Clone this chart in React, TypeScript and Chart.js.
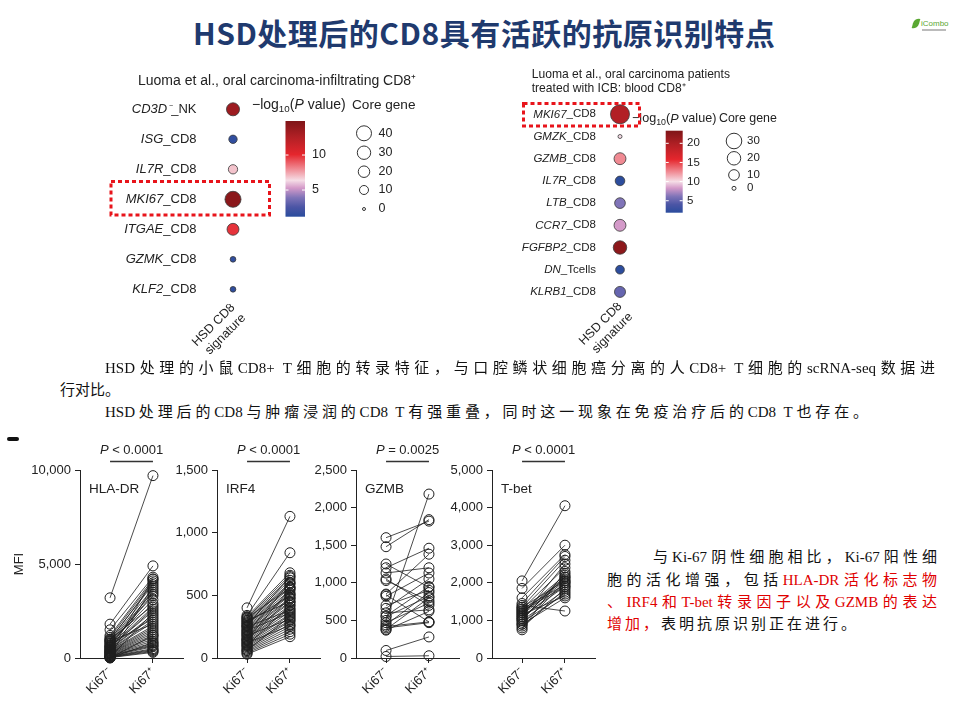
import React, { useEffect, useRef } from 'react';
import { Chart, registerables } from 'chart.js';
Chart.register(...registerables);

// ---------------- DATA ----------------
// Panel 1: Luoma et al., oral carcinoma-infiltrating CD8+
const leftGenes = ['CD3D⁻', 'ISG', 'IL7R', 'MKI67', 'ITGAE', 'GZMK', 'KLF2'];
const leftSuffix = ['_NK', '_CD8', '_CD8', '_CD8', '_CD8', '_CD8', '_CD8'];
const leftLogP = [13.5, 1.46, 6.9, 14.3, 9.8, 1.46, 1.4];
const leftCore = [28, 8, 11, 47, 22, 2, 2];
const leftLegendCore = [40, 30, 20, 10, 0];
const leftCbarTicks = [5, 10];
const leftCbarRange = [1.19, 14.86];

// Panel 2: Luoma et al., oral carcinoma patients treated with ICB: blood CD8+
const rightGenes = ['MKI67', 'GMZK', 'GZMB', 'IL7R', 'LTB', 'CCR7', 'FGFBP2', 'DN', 'KLRB1'];
const rightSuffix = ['_CD8', '_CD8', '_CD8', '_CD8', '_CD8', '_CD8', '_CD8', '_Tcells', '_CD8'];
const rightLogP = [19.66, 10.0, 12.6, 2.0, 6.16, 8.3, 22.4, 2.0, 5.1];
const rightCore = [50, 0, 14, 7, 10, 14, 20, 5, 11];
const rightLegendCore = [30, 20, 10, 0];
const rightCbarTicks = [5, 10, 15, 20];
const rightCbarRange = [1.87, 23.3];

// Paired MFI panels
const pairCategories = ['Ki67⁻', 'Ki67⁺'];
const hladrNeg = [3200, 1800, 1500, 1200, 1100, 1000, 950, 900, 850, 800, 780, 700, 650, 600, 580, 550, 500, 480, 450, 420, 400, 380, 350, 320, 300, 280, 250, 230, 200, 180, 150, 130, 100, 80, 60, 50, 30, 20, 10, 0, 40, 120, 300, 600, 900, 700, 1000];
const hladrPos = [9700, 4900, 4300, 4200, 4100, 3900, 4000, 3700, 3500, 3300, 3100, 3400, 2900, 2700, 2500, 2600, 2300, 2200, 2000, 1900, 1700, 1600, 1500, 1400, 1300, 1200, 1100, 1000, 900, 800, 700, 650, 600, 500, 450, 400, 350, 300, 800, 1200, 2400, 3800, 4200, 3600, 1800, 2100, 2800];
const irf4Neg = [400, 340, 330, 320, 310, 300, 290, 280, 270, 260, 250, 240, 230, 220, 210, 200, 190, 180, 170, 160, 150, 140, 130, 120, 110, 100, 90, 80, 70, 60, 50, 40, 30, 300, 250, 200, 150, 100, 280, 220, 180, 120, 60, 320, 260, 140];
const irf4Pos = [1130, 840, 680, 660, 640, 620, 600, 590, 570, 560, 540, 520, 510, 500, 480, 470, 450, 440, 420, 400, 390, 370, 350, 340, 320, 300, 290, 270, 250, 230, 210, 190, 170, 450, 380, 600, 550, 420, 500, 360, 310, 260, 330, 560, 650, 480];
const gzmbNeg = [1600, 1480, 1250, 1200, 1130, 1030, 850, 820, 700, 660, 600, 550, 500, 470, 440, 420, 400, 380, 370, 100, 20, 840, 560, 1050];
const gzmbPos = [1820, 1840, 940, 1460, 1200, 760, 1380, 1130, 900, 1050, 640, 820, 2180, 730, 870, 480, 470, 800, 620, 280, 30, 480, 950, 700];
const tbetNeg = [2050, 1850, 1600, 1400, 1350, 1300, 1250, 1200, 1150, 1100, 1050, 1000, 950, 900, 850, 800, 750, 1300, 1200, 1100, 1000, 1450, 1350, 1250, 900, 1150, 1050];
const tbetPos = [4050, 3000, 2750, 1250, 2600, 2400, 2200, 2100, 2050, 1900, 2000, 1800, 1700, 1600, 1750, 1850, 2300, 1950, 2150, 2500, 2250, 2700, 2050, 1900, 2000, 1650, 2150];

// ---------------- HELPERS ----------------
const SANS = '"Liberation Sans", Arial, sans-serif';
const CMAP: [number, string][] = [
  [0, '#2a4c9d'], [0.1, '#4b55a5'], [0.2, '#8074b8'], [0.3, '#d49ac9'], [0.38, '#f5dde6'],
  [0.5, '#f08a93'], [0.65, '#e5262d'], [0.83, '#b22025'], [1, '#7f1518'],
];
const hex = (h: string) => [1, 3, 5].map((i) => parseInt(h.slice(i, i + 2), 16));
function cmap(f: number) {
  f = Math.max(0, Math.min(1, f));
  for (let i = 1; i < CMAP.length; i++) {
    if (f <= CMAP[i][0]) {
      const [f0, c0] = CMAP[i - 1];
      const [f1, c1] = CMAP[i];
      const t = (f - f0) / (f1 - f0);
      const a = hex(c0), b = hex(c1);
      const c = a.map((v, k) => Math.round(v + (b[k] - v) * t));
      return `rgb(${c[0]},${c[1]},${c[2]})`;
    }
  }
  return CMAP[CMAP.length - 1][1];
}

function drawLogTitle(ctx: CanvasRenderingContext2D, x: number, y: number, s: number) {
  ctx.textAlign = 'left';
  ctx.textBaseline = 'middle';
  const parts: [string, string, number][] = [
    ['−log', `${s}px ${SANS}`, 0],
    ['10', `${s * 0.7}px ${SANS}`, s * 0.32],
    ['(', `${s}px ${SANS}`, 0],
    ['P', `italic ${s}px ${SANS}`, 0],
    [' value)', `${s}px ${SANS}`, 0],
  ];
  let cx = x;
  for (const [t, f, dy] of parts) {
    ctx.font = f;
    ctx.fillText(t, cx, y + dy);
    cx += ctx.measureText(t).width;
  }
}

function drawRowLabel(ctx: CanvasRenderingContext2D, xr: number, y: number, gene: string, suffix: string, s: number) {
  ctx.textAlign = 'left';
  ctx.textBaseline = 'middle';
  ctx.font = `${s}px ${SANS}`;
  const sw = ctx.measureText(suffix).width;
  ctx.font = `italic ${s}px ${SANS}`;
  const gw = ctx.measureText(gene).width;
  ctx.fillText(gene, xr - sw - gw, y);
  ctx.font = `${s}px ${SANS}`;
  ctx.fillText(suffix, xr - sw, y);
}

type DotSpec = {
  genes: string[]; suffix: string[]; logP: number[]; core: number[];
  range: number[]; cbarTicks: number[]; legendCore: number[];
  sizeFn: (n: number) => number;
  pad: { left: number; right: number; top: number }; axisH: number;
  title: string[]; titleX: number; titleY: number[]; titleSize: number;
  labelGap: number; labelSize: number;
  cbar: { x0: number; x1: number; y0: number; y1: number; labelX: number; size: number };
  logTitle: { x: number; y: number; size: number };
  coreTitle: { x: number; y: number; size: number };
  legend: { x: number; ys: number[]; labelX: number; size: number };
  box: { x0: number; y0: number; x1: number; y1: number };
};

function dotConfig(sp: DotSpec): any {
  const n = sp.genes.length;
  const f = (v: number) => (v - sp.range[0]) / (sp.range[1] - sp.range[0]);
  const deco = {
    id: 'deco',
    afterDraw(chart: any) {
      const ctx: CanvasRenderingContext2D = chart.ctx;
      const xs = chart.scales.x, ys = chart.scales.y;
      const dx = xs.getPixelForValue(0);
      ctx.save();
      ctx.fillStyle = '#222';
      ctx.font = `${sp.titleSize}px ${SANS}`;
      ctx.textAlign = 'left';
      ctx.textBaseline = 'middle';
      sp.title.forEach((t, i) => ctx.fillText(t, sp.titleX, sp.titleY[i]));
      sp.genes.forEach((g, i) => drawRowLabel(ctx, dx - sp.labelGap, ys.getPixelForValue(i), g, sp.suffix[i], sp.labelSize));
      const c = sp.cbar;
      const grad = ctx.createLinearGradient(0, c.y1, 0, c.y0);
      CMAP.forEach(([p, col]) => grad.addColorStop(p, col));
      ctx.fillStyle = grad;
      ctx.fillRect(c.x0, c.y0, c.x1 - c.x0, c.y1 - c.y0);
      ctx.strokeStyle = '#fff';
      ctx.lineWidth = 1;
      ctx.font = `${c.size}px ${SANS}`;
      ctx.textAlign = 'left';
      ctx.textBaseline = 'middle';
      sp.cbarTicks.forEach((t) => {
        const y = c.y1 - f(t) * (c.y1 - c.y0);
        ctx.beginPath();
        ctx.moveTo(c.x0, y); ctx.lineTo(c.x0 + 3, y);
        ctx.moveTo(c.x1 - 3, y); ctx.lineTo(c.x1, y);
        ctx.stroke();
        ctx.fillStyle = '#222';
        ctx.fillText(String(t), c.labelX, y);
      });
      ctx.fillStyle = '#222';
      drawLogTitle(ctx, sp.logTitle.x, sp.logTitle.y, sp.logTitle.size);
      ctx.font = `${sp.coreTitle.size}px ${SANS}`;
      ctx.textAlign = 'left';
      ctx.fillText('Core gene', sp.coreTitle.x, sp.coreTitle.y);
      ctx.strokeStyle = '#333';
      ctx.lineWidth = 1;
      ctx.font = `${sp.legend.size}px ${SANS}`;
      sp.legendCore.forEach((v, i) => {
        const y = sp.legend.ys[i];
        ctx.beginPath();
        ctx.arc(sp.legend.x, y, sp.sizeFn(v), 0, Math.PI * 2);
        ctx.fillStyle = '#fff';
        ctx.fill();
        ctx.stroke();
        ctx.fillStyle = '#222';
        ctx.fillText(String(v), sp.legend.labelX, y);
      });
      ctx.strokeStyle = '#e8141b';
      ctx.lineWidth = 3;
      ctx.setLineDash([4, 3]);
      const b = sp.box;
      ctx.strokeRect(b.x0, b.y0, b.x1 - b.x0, b.y1 - b.y0);
      ctx.restore();
    },
  };
  return {
    type: 'bubble',
    data: {
      datasets: [{
        data: sp.genes.map((_, i) => ({ x: 0, y: i, r: sp.sizeFn(sp.core[i]) })),
        backgroundColor: sp.logP.map((v) => cmap(f(v))),
        borderColor: '#3a3a3a',
        borderWidth: 0.8,
        clip: false,
      }],
    },
    options: {
      responsive: false, animation: false, devicePixelRatio: 1, events: [],
      layout: { padding: { left: sp.pad.left, right: sp.pad.right, top: sp.pad.top, bottom: 0 }, autoPadding: false },
      plugins: { legend: { display: false }, tooltip: { enabled: false } },
      scales: {
        x: {
          type: 'linear', min: -1, max: 1,
          afterBuildTicks: (s: any) => { s.ticks = [{ value: 0 }]; },
          afterFit: (s: any) => { s.height = sp.axisH; },
          ticks: { callback: () => ['HSD CD8', 'signature'], minRotation: 45, maxRotation: 45, autoSkip: false, padding: -4, color: '#222', font: { family: SANS, size: 12.5 } },
          grid: { display: false, drawTicks: false },
          border: { display: false },
        },
        y: { type: 'linear', min: -0.5, max: n - 0.5, reverse: true, display: false },
      },
    },
    plugins: [deco],
  };
}

function pairConfig(neg: number[], pos: number[], yMax: number, yStep: number, pText: string, name: string, showTitle: boolean): any {
  const annot = {
    id: 'annot',
    afterDraw(chart: any) {
      const ctx: CanvasRenderingContext2D = chart.ctx;
      const xs = chart.scales.x;
      const a = chart.chartArea;
      const x0 = xs.getPixelForValue(0), x1 = xs.getPixelForValue(1);
      ctx.save();
      ctx.strokeStyle = '#333';
      ctx.lineWidth = 1.4;
      ctx.beginPath();
      ctx.moveTo(x0, a.top - 8.5); ctx.lineTo(x1, a.top - 8.5);
      ctx.stroke();
      ctx.fillStyle = '#222';
      ctx.textBaseline = 'middle';
      ctx.textAlign = 'left';
      ctx.font = `italic 13px ${SANS}`;
      const pw = ctx.measureText('P').width;
      ctx.font = `13px ${SANS}`;
      const rw = ctx.measureText(pText).width;
      const sx = (x0 + x1) / 2 - (pw + rw) / 2;
      ctx.font = `italic 13px ${SANS}`;
      ctx.fillText('P', sx, a.top - 20);
      ctx.font = `13px ${SANS}`;
      ctx.fillText(pText, sx + pw, a.top - 20);
      ctx.font = `13.5px ${SANS}`;
      ctx.fillText(name, a.left + 9, a.top + 19);
      ctx.restore();
    },
  };
  return {
    type: 'scatter',
    data: {
      datasets: neg.map((v, i) => ({
        data: [{ x: 0, y: v }, { x: 1, y: pos[i] }],
        showLine: true,
        borderColor: '#1e1e1e',
        borderWidth: 0.8,
        pointRadius: 5,
        pointBorderWidth: 1,
        pointBorderColor: '#1e1e1e',
        pointBackgroundColor: 'rgba(0,0,0,0)',
        clip: false,
      })),
    },
    options: {
      responsive: false, animation: false, devicePixelRatio: 1, events: [],
      layout: { padding: { left: 0, top: 34, right: 10, bottom: 0 }, autoPadding: false },
      plugins: { legend: { display: false }, tooltip: { enabled: false } },
      scales: {
        x: {
          type: 'linear', min: -0.7, max: 1.7,
          afterBuildTicks: (s: any) => { s.ticks = [{ value: 0 }, { value: 1 }]; },
          afterFit: (s: any) => { s.height = 62; },
          ticks: { callback: (v: any) => pairCategories[v], minRotation: 45, maxRotation: 45, autoSkip: false, padding: 2, color: '#222', font: { family: SANS, size: 13 } },
          grid: { display: true, drawOnChartArea: false, drawTicks: true, tickLength: 5, color: '#222' },
          border: { display: true, color: '#222', width: 1 },
        },
        y: {
          type: 'linear', min: 0, max: yMax,
          afterFit: (s: any) => { s.width = 70; },
          ticks: { stepSize: yStep, padding: 4, color: '#222', font: { family: SANS, size: 13 }, callback: (v: any) => Number(v).toLocaleString('en-US') },
          grid: { display: true, drawOnChartArea: false, drawTicks: true, tickLength: 5, color: '#222' },
          border: { display: true, color: '#222', width: 1 },
          title: { display: showTitle, text: 'MFI', color: '#222', font: { family: SANS, size: 13 }, padding: { top: 2, bottom: 0 } },
        },
      },
    },
    plugins: [annot],
  };
}

function ChartBox({ left, top, width, height, make }: { left: number; top: number; width: number; height: number; make: () => any }) {
  const ref = useRef<HTMLCanvasElement>(null);
  useEffect(() => {
    const chart = new Chart(ref.current as HTMLCanvasElement, make());
    return () => chart.destroy();
  }, []);
  return <canvas ref={ref} width={width} height={height} style={{ position: 'absolute', left, top, width, height }} />;
}

const SERIF = '"Liberation Serif", "Noto Sans CJK SC", serif';
const lineCss = (left: number, top: number, width?: number, extra: any = {}): any => ({
  position: 'absolute', left, top, width, fontFamily: SERIF, fontSize: 15, lineHeight: '22px', color: '#111',
  textAlign: width ? 'justify' : 'left', textAlignLast: width ? 'justify' : 'auto', ...extra,
});

export default function App() {
  return (
    <div style={{ position: 'absolute', left: 0, top: 0, width: 960, height: 720, background: '#fff', overflow: 'hidden' }}>
      <div style={{ position: 'absolute', left: 193, top: 13, fontSize: 30, fontWeight: 700, color: '#1f3a6e', fontFamily: '"Noto Sans CJK SC", sans-serif', lineHeight: '38px', whiteSpace: 'nowrap', letterSpacing: 0.5 }}>
        HSD处理后的CD8具有活跃的抗原识别特点
      </div>
      {/* logo */}
      <div style={{ position: 'absolute', left: 913, top: 18, width: 6, height: 11, background: '#5aa832', borderRadius: '6px 0 6px 0', transform: 'rotate(15deg)' }} />
      <div style={{ position: 'absolute', left: 921, top: 19, fontSize: 8, color: '#5aa832', fontFamily: SANS, lineHeight: '10px' }}>iCombo</div>
      <div style={{ position: 'absolute', left: 922, top: 29, width: 24, height: 2, background: '#bbb' }} />

      <ChartBox left={100} top={60} width={330} height={300} make={() => dotConfig({
        genes: leftGenes, suffix: leftSuffix, logP: leftLogP, core: leftCore,
        range: leftCbarRange, cbarTicks: leftCbarTicks, legendCore: leftLegendCore,
        sizeFn: (v) => 1.5 + 0.95 * Math.sqrt(v),
        pad: { left: 103, right: 167, top: 34.3 }, axisH: 55.7,
        title: ['Luoma et al., oral carcinoma-infiltrating CD8⁺'], titleX: 38, titleY: [20.7], titleSize: 14,
        labelGap: 36.5, labelSize: 13,
        cbar: { x0: 185.5, x1: 205, y0: 61, y1: 156.7, labelX: 212, size: 12.5 },
        logTitle: { x: 152, y: 45, size: 14 },
        coreTitle: { x: 252, y: 45, size: 13.6 },
        legend: { x: 264, ys: [73.3, 92.7, 111.7, 130, 149], labelX: 278.5, size: 12.5 },
        box: { x0: 11, y0: 121.5, x1: 169.5, y1: 155 },
      })} />

      <ChartBox left={510} top={60} width={290} height={300} make={() => dotConfig({
        genes: rightGenes, suffix: rightSuffix, logP: rightLogP, core: rightCore,
        range: rightCbarRange, cbarTicks: rightCbarTicks, legendCore: rightLegendCore,
        sizeFn: (v) => 2 + 1.06 * Math.sqrt(v),
        pad: { left: 90, right: 160, top: 43.2 }, axisH: 57,
        title: ['Luoma et al., oral carcinoma patients', 'treated with ICB: blood CD8⁺'], titleX: 21.7, titleY: [15, 28.3], titleSize: 12.1,
        labelGap: 24, labelSize: 11.5,
        cbar: { x0: 155.7, x1: 172.7, y0: 70.7, y1: 152.7, labelX: 177, size: 11.5 },
        logTitle: { x: 122, y: 59, size: 12.6 },
        coreTitle: { x: 209, y: 59, size: 12.4 },
        legend: { x: 224, ys: [81, 98.3, 115, 128.3], labelX: 237, size: 11.5 },
        box: { x0: 13.5, y0: 43.5, x1: 129.5, y1: 66 },
      })} />

      <div style={lineCss(105, 357, 830)}>HSD处理的小鼠CD8+ T细胞的转录特征，与口腔鳞状细胞癌分离的人CD8+ T细胞的scRNA-seq数据进</div>
      <div style={lineCss(60, 379)}>行对比。</div>
      <div style={lineCss(105, 401, 763)}>HSD处理后的CD8与肿瘤浸润的CD8 T有强重叠，同时这一现象在免疫治疗后的CD8 T也存在。</div>

      <div style={{ position: 'absolute', left: 7, top: 437, width: 12, height: 4, background: '#111', borderRadius: 2 }} />

      <ChartBox left={10} top={436} width={183} height={284} make={() => pairConfig(hladrNeg, hladrPos, 10000, 5000, ' < 0.0001', 'HLA-DR', true)} />
      <ChartBox left={147} top={436} width={183} height={284} make={() => pairConfig(irf4Neg, irf4Pos, 1500, 500, ' < 0.0001', 'IRF4', false)} />
      <ChartBox left={286} top={436} width={183} height={284} make={() => pairConfig(gzmbNeg, gzmbPos, 2500, 500, ' = 0.0025', 'GZMB', false)} />
      <ChartBox left={422} top={436} width={183} height={284} make={() => pairConfig(tbetNeg, tbetPos, 5000, 1000, ' < 0.0001', 'T-bet', false)} />

      <div style={lineCss(653, 546, 284)}>与Ki-67阴性细胞相比，Ki-67阳性细</div>
      <div style={lineCss(607, 569, 330)}>胞的活化增强，包括<span style={{ color: '#e00000' }}>HLA-DR活化标志物</span></div>
      <div style={lineCss(607, 591, 330, { color: '#e00000' })}>、IRF4和T-bet转录因子以及GZMB的表达</div>
      <div style={lineCss(607, 613, undefined, { letterSpacing: 3 })}><span style={{ color: '#e00000' }}>增加，</span>表明抗原识别正在进行。</div>
    </div>
  );
}
